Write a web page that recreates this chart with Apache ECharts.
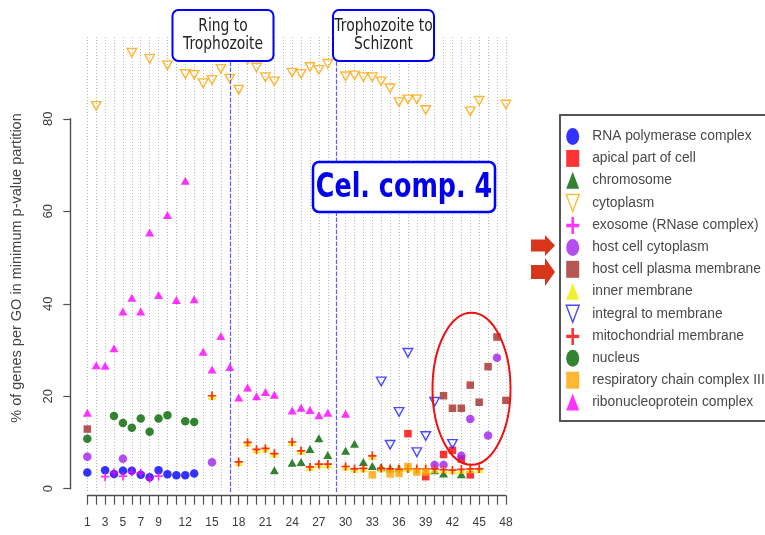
<!DOCTYPE html>
<html>
<head>
<meta charset="utf-8">
<script src="https://cdn.jsdelivr.net/npm/echarts@6.0.0/dist/echarts.min.js"></script>
<style>
  html, body { margin: 0; padding: 0; background: #ffffff; }
  #chart { width: 765px; height: 535px; }
</style>
</head>
<body>
<div id="chart"></div>
<script>
// Time points shown as labels on the x axis
const xTickLabels = [1, 3, 5, 7, 9, 12, 15, 18, 21, 24, 27, 30, 33, 36, 39, 42, 45, 48];
// Stage transitions (time point index)
const stageBreaks = [17, 29];

// % of genes per GO term, [time point, value]
const rnaPolymerase = [[1,3.5],[3,4.0],[4,3.2],[5,3.9],[6,3.9],[7,3.0],[8,2.5],[9,4.0],[10,3.1],[11,2.9],[12,2.9],[13,3.3]];
const apicalPart = [[37,11.9],[39,2.6],[41,7.4],[42,8.3],[43,6.4],[44,3.0]];
const chromosome = [[22,4.0],[24,5.6],[25,5.8],[26,8.6],[27,10.9],[28,7.3],[30,8.2],[31,9.7],[32,5.8],[33,4.9],[34,4.7],[35,4.4],[36,4.5],[40,4.0],[41,3.3],[43,3.1]];
const cytoplasm = [[2,82.8],[6,94.3],[8,93.0],[10,91.6],[12,89.7],[13,89.5],[14,87.7],[15,88.4],[16,90.8],[17,88.7],[18,86.3],[19,92.8],[20,91.1],[21,89.0],[22,88.1],[24,90.0],[25,89.7],[26,91.2],[27,90.6],[28,91.9],[30,89.2],[31,89.4],[32,89.0],[33,89.0],[34,88.1],[35,86.6],[36,83.6],[37,84.2],[38,84.2],[39,81.9],[44,81.6],[45,83.9],[48,83.1]];
const exosome = [[3,2.6],[4,3.5],[5,2.7],[6,3.6],[7,3.4],[8,2.2],[9,2.7]];
const hostCytoplasm = [[1,6.9],[5,6.5],[15,5.7],[40,5.1],[41,5.1],[43,7.1],[44,15.1],[46,11.5],[47,28.3]];
const hostPlasmaMembrane = [[1,12.9],[41,20.1],[42,17.4],[43,17.4],[44,22.4],[45,18.7],[46,26.4],[47,32.8],[48,19.1]];
const innerMembrane = [[15,20.1],[18,5.8],[19,10.0],[20,8.5],[21,8.7],[22,7.6],[24,10.1],[25,8.2],[26,4.7],[27,5.3],[28,5.3],[30,4.8],[31,4.3],[32,4.4],[33,7.1],[34,4.4],[35,4.3],[36,4.4],[37,4.4],[38,4.2],[39,4.1],[40,4.2],[41,4.2],[42,4.0],[43,4.1],[44,4.2],[45,4.2]];
const integralMembrane = [[34,23.2],[35,9.5],[36,16.6],[37,29.4],[38,7.9],[39,11.4],[40,18.8],[42,9.7]];
const mitoMembrane = [[15,20.1],[18,5.8],[19,10.0],[20,8.5],[21,8.7],[22,7.6],[24,10.1],[25,8.2],[26,4.7],[27,5.3],[28,5.3],[30,4.8],[31,4.3],[32,4.4],[33,7.1],[34,4.4],[35,4.3],[36,4.2],[37,4.3],[38,4.3],[39,4.3],[40,4.3],[41,4.1],[42,4.0],[43,4.2],[44,4.3],[45,4.3]];
const nucleus = [[1,10.8],[4,15.7],[5,14.2],[6,13.2],[7,15.2],[8,12.3],[9,15.2],[10,15.9],[12,14.6],[13,14.4]];
const respChainIII = [[33,3.0],[35,3.2],[36,3.3],[37,4.8],[38,3.6],[39,3.6]];
const ribonucleoprotein = [[1,16.4],[2,26.7],[3,26.6],[4,30.4],[5,38.3],[6,41.3],[7,38.3],[8,55.4],[9,41.9],[10,59.2],[11,40.8],[12,66.6],[13,41.0],[14,29.6],[15,25.8],[16,33.0],[17,26.3],[18,19.7],[19,21.9],[20,20.0],[21,20.9],[22,20.3],[24,16.9],[25,17.5],[26,17.0],[27,15.9],[28,16.4],[30,16.2]];

// Marker shapes
const DOWN_TRI = 'path://M0,0L10,0L5,9Z';
const PLUS = 'path://M4,0H6V4H10V6H6V10H4V6H0V4H4Z';
const OVAL = 'path://M5,0A5,5 0 1,1 5,10A5,5 0 1,1 5,0Z';

const SANS = "'Liberation Sans', Arial, sans-serif";

const terms = [
  { name: 'RNA polymerase complex', data: rnaPolymerase, symbol: 'circle', size: 8.5, color: '#0000ff', icon: OVAL },
  { name: 'apical part of cell', data: apicalPart, symbol: 'rect', size: 7.5, color: '#ff0000', icon: 'rect' },
  { name: 'chromosome', data: chromosome, symbol: 'triangle', size: [9, 8], color: '#006400', icon: 'triangle' },
  { name: 'cytoplasm', data: cytoplasm, symbol: DOWN_TRI, size: [9.5, 8.5], color: '#ffa500', open: true, icon: DOWN_TRI },
  { name: 'exosome (RNase complex)', data: exosome, symbol: PLUS, size: 8.5, color: '#ff00ff', icon: PLUS },
  { name: 'host cell cytoplasm', data: hostCytoplasm, symbol: 'circle', size: 8.5, color: '#a020f0', icon: OVAL },
  { name: 'host cell plasma membrane', data: hostPlasmaMembrane, symbol: 'rect', size: 7.5, color: '#a52a2a', icon: 'rect' },
  { name: 'inner membrane', data: innerMembrane, symbol: 'triangle', size: [9, 8], color: '#eeee00', icon: 'triangle' },
  { name: 'integral to membrane', data: integralMembrane, symbol: DOWN_TRI, size: [9.5, 8.5], color: '#1a1aff', open: true, icon: DOWN_TRI },
  { name: 'mitochondrial membrane', data: mitoMembrane, symbol: PLUS, size: 8.5, color: '#ff0000', icon: PLUS },
  { name: 'nucleus', data: nucleus, symbol: 'circle', size: 8.5, color: '#006400', icon: OVAL },
  { name: 'respiratory chain complex III', data: respChainIII, symbol: 'rect', size: 7.5, color: '#ffa500', icon: 'rect' },
  { name: 'ribonucleoprotein complex', data: ribonucleoprotein, symbol: 'triangle', size: [9, 8], color: '#ff00ff', icon: 'triangle' }
];

const styleOf = t => t.open
  ? { color: 'rgba(255,255,255,0)', borderColor: t.color, borderWidth: 1.4 }
  : { color: t.color, borderWidth: 0 };

const scatterSeries = terms.map(t => ({
  name: t.name,
  type: 'scatter',
  xAxisIndex: 0,
  yAxisIndex: 0,
  data: t.data,
  symbol: t.symbol,
  symbolSize: t.size,
  symbolKeepAspect: false,
  clip: false,
  itemStyle: styleOf(t),
  emphasis: { disabled: true },
  z: 3
}));

const AXIS_COLOR = '#505050';

const chart = echarts.init(document.getElementById('chart'), null, { renderer: 'canvas' });

chart.setOption({
  animation: false,
  backgroundColor: '#ffffff',
  grid: [
    { left: 87.3, right: 259.1, top: 118.8, bottom: 46.3, containLabel: false, outerBoundsMode: 'none' },
    { left: 87.3, right: 259.1, top: 37, bottom: 43, containLabel: false, outerBoundsMode: 'none' }
  ],
  xAxis: [
    {
      type: 'value', gridIndex: 0, min: 1, max: 48, interval: 1, offset: 7,
      axisLine: { show: true, onZero: false, lineStyle: { color: AXIS_COLOR, width: 1.4 } },
      axisTick: { show: true, length: 9, lineStyle: { color: AXIS_COLOR, width: 1.2 } },
      axisLabel: {
        show: true, margin: 21, color: '#3c3c3c', fontFamily: SANS, fontSize: 12,
        formatter: v => (xTickLabels.indexOf(v) >= 0 ? String(v) : '')
      },
      splitLine: { show: false }
    },
    {
      type: 'value', gridIndex: 1, min: 1, max: 48, interval: 1,
      axisLine: { show: false }, axisTick: { show: false }, axisLabel: { show: false },
      splitLine: { show: true, lineStyle: { color: '#b8b8b8', width: 1, type: [1, 2] } }
    }
  ],
  yAxis: [
    {
      type: 'value', gridIndex: 0, min: 0, max: 80, interval: 20, offset: 17,
      axisLine: { show: true, onZero: false, lineStyle: { color: AXIS_COLOR, width: 1.4 } },
      axisTick: { show: true, length: 7, lineStyle: { color: AXIS_COLOR, width: 1.2 } },
      axisLabel: { show: true, rotate: 90, margin: 15, color: '#3c3c3c', fontFamily: SANS, fontSize: 13 },
      splitLine: { show: false }
    },
    { type: 'value', gridIndex: 1, min: 0, max: 1, show: false }
  ],
  legend: {
    orient: 'vertical',
    left: 565.5,
    top: 128,
    padding: 0,
    itemGap: 4.9,
    itemWidth: 13,
    itemHeight: 17,
    symbolKeepAspect: false,
    selectedMode: false,
    textStyle: { fontFamily: SANS, fontSize: 13.8, color: '#484848', padding: [0, 0, 0, 8] },
    data: terms.map(t => ({ name: t.name, icon: t.icon, itemStyle: styleOf(t) }))
  },
  series: [
    {
      name: 'stages',
      type: 'line',
      xAxisIndex: 1,
      yAxisIndex: 1,
      data: [],
      silent: true,
      markLine: {
        silent: true,
        symbol: 'none',
        label: { show: false },
        lineStyle: { color: '#5c5cff', width: 1.2, type: [4, 2] },
        data: stageBreaks.map(b => ({ xAxis: b }))
      },
      z: 1
    }
  ].concat(scatterSeries),
  graphic: [
    {
      type: 'text', x: 16.5, y: 268, rotation: Math.PI / 2, z: 50,
      style: {
        text: '% of genes per GO in minimum p-value partition',
        font: "14.5px 'Liberation Sans', Arial, sans-serif",
        fill: '#444444', textAlign: 'center', textVerticalAlign: 'middle', align: 'center', verticalAlign: 'middle'
      }
    },
    // stage boxes
    { type: 'rect', z: 60, shape: { x: 172.5, y: 10, width: 101, height: 51, r: 6 }, style: { fill: '#ffffff', stroke: '#0000ff', lineWidth: 2 } },
    {
      type: 'text', z: 61, x: 223, y: 35, scaleX: 0.75,
      style: { text: 'Ring to\nTrophozoite', font: "18.5px 'DejaVu Sans', sans-serif", lineHeight: 18, fill: '#222222',
        textAlign: 'center', textVerticalAlign: 'middle', align: 'center', verticalAlign: 'middle' }
    },
    { type: 'rect', z: 60, shape: { x: 333, y: 10, width: 101, height: 51, r: 6 }, style: { fill: '#ffffff', stroke: '#0000ff', lineWidth: 2 } },
    {
      type: 'text', z: 61, x: 383.5, y: 35, scaleX: 0.75,
      style: { text: 'Trophozoite to\nSchizont', font: "18.5px 'DejaVu Sans', sans-serif", lineHeight: 18, fill: '#222222',
        textAlign: 'center', textVerticalAlign: 'middle', align: 'center', verticalAlign: 'middle' }
    },
    // title box
    { type: 'rect', z: 60, shape: { x: 313, y: 162, width: 182, height: 50, r: 6 }, style: { fill: '#ffffff', stroke: '#0000ff', lineWidth: 2.5 } },
    {
      type: 'text', z: 61, x: 404, y: 188, scaleX: 0.77,
      style: { text: 'Cel. comp. 4', font: "bold 33px 'DejaVu Sans', sans-serif", fill: '#0000ee',
        textAlign: 'center', textVerticalAlign: 'middle', align: 'center', verticalAlign: 'middle' }
    },
    // highlight ring around late host-cell terms
    { type: 'ellipse', z: 55, shape: { cx: 471.5, cy: 388.7, rx: 39, ry: 76 }, style: { fill: 'none', stroke: '#ee1111', lineWidth: 2 } },
    // legend frame
    { type: 'rect', z: 40, shape: { x: 560, y: 115, width: 240, height: 306 }, style: { fill: 'none', stroke: '#555555', lineWidth: 2 } },
    // pointers to the host cell terms
    { type: 'polygon', z: 45, shape: { points: [[531,239.5],[545,239.5],[545,235],[555,245.5],[545,256],[545,251.5],[531,251.5]] }, style: { fill: '#d8361a' } },
    { type: 'polygon', z: 45, shape: { points: [[531,265],[545,265],[545,258],[555,272],[545,286],[545,279],[531,279]] }, style: { fill: '#d8361a' } }
  ]
});
</script>
</body>
</html>
